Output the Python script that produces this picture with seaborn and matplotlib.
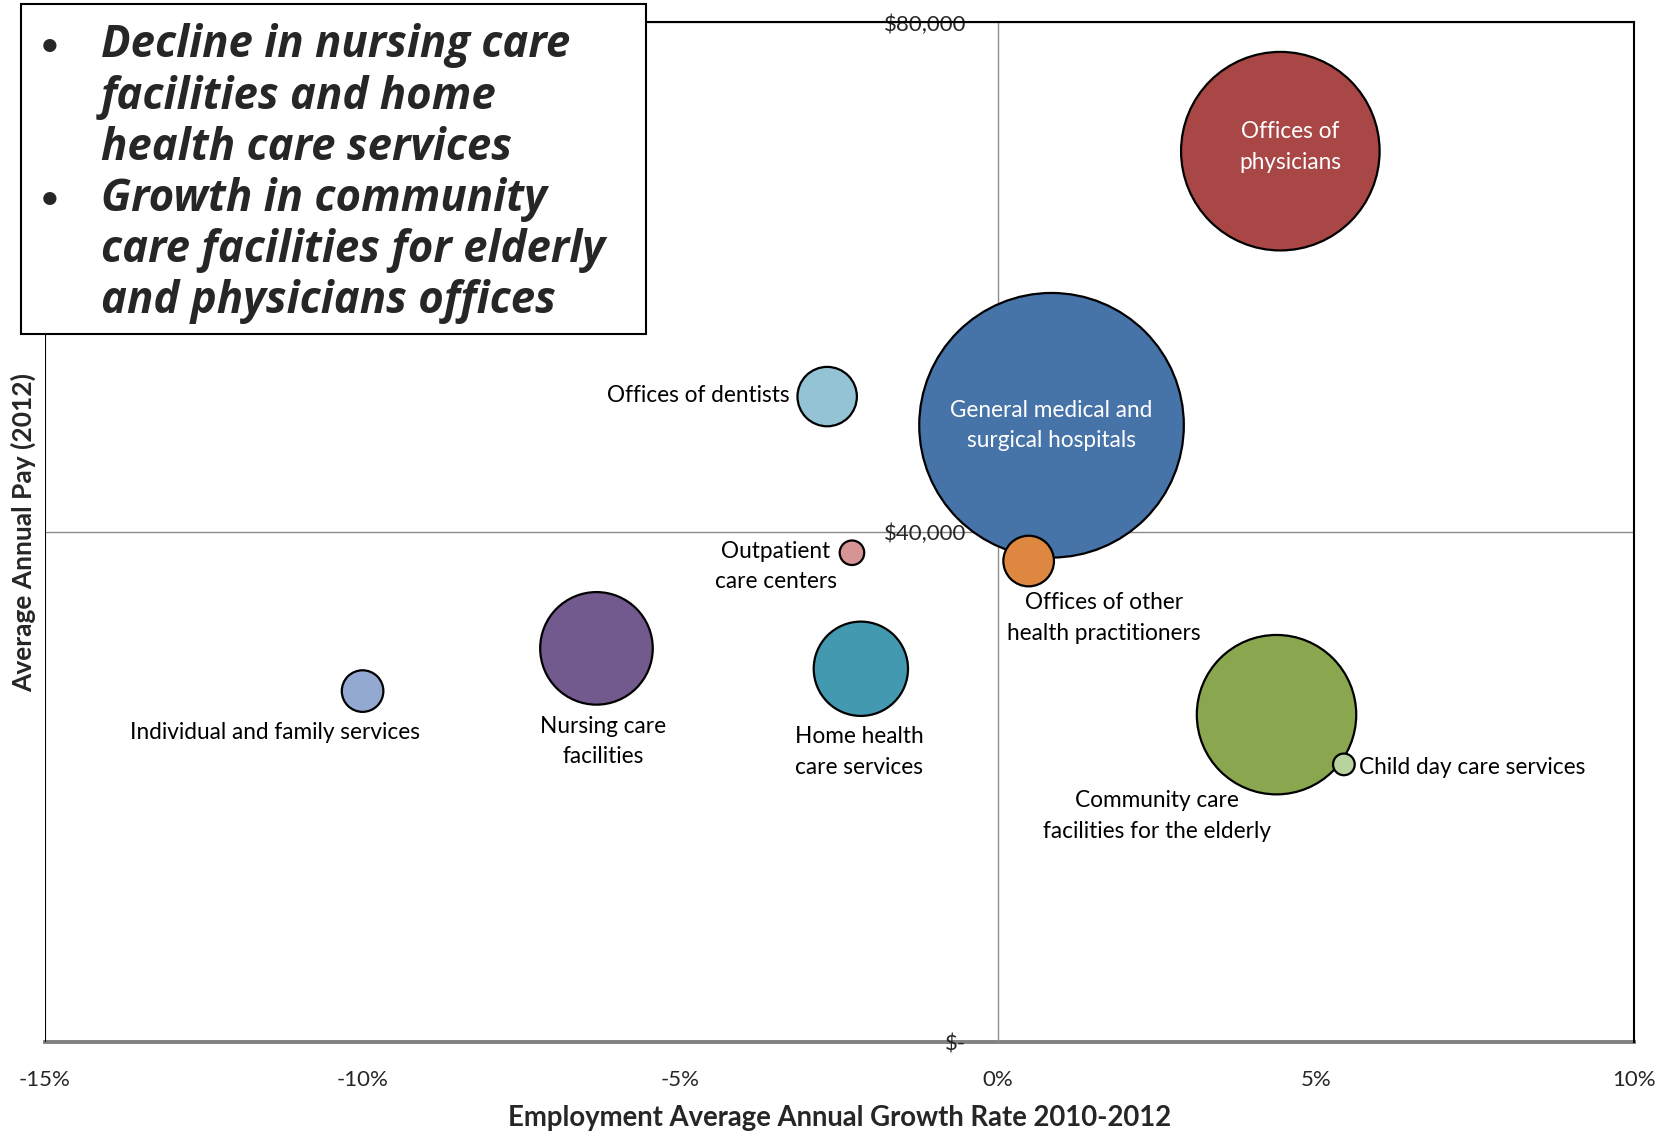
import matplotlib.pyplot as plt
import pandas as pd
import seaborn as sns
from matplotlib.patches import Rectangle
from matplotlib.ticker import FuncFormatter

# data
industries = [
    "Offices of physicians",
    "General medical and surgical hospitals",
    "Offices of other health practitioners",
    "Offices of dentists",
    "Outpatient care centers",
    "Nursing care facilities",
    "Home health care services",
    "Individual and family services",
    "Community care facilities for the elderly",
    "Child day care services",
]
growth = [0.0444, 0.0084, 0.0048, -0.0269, -0.0230, -0.0632, -0.0216, -0.1000, 0.0438, 0.0544]
pay = [69900, 48400, 37750, 50650, 38400, 30900, 29300, 27550, 25700, 21800]
employment = [56.3, 100.0, 3.66, 5.04, 0.86, 18.1, 12.7, 2.47, 36.3, 0.67]
colors = ["#A94646", "#4673A8", "#DE8740", "#93C3D4", "#D69494",
          "#735A8E", "#4399AF", "#94A9D1", "#8AA64E", "#B8D39E"]
labels = [
    "Offices of\nphysicians",
    "General medical and\nsurgical hospitals",
    "Offices of other\nhealth practitioners",
    "Offices of dentists",
    "Outpatient\ncare centers",
    "Nursing care\nfacilities",
    "Home health\ncare services",
    "Individual and family services",
    "Community care\nfacilities for the elderly",
    "Child day care services",
]
x_ticks = [-0.15, -0.10, -0.05, 0.0, 0.05, 0.10]
y_ticks = [0, 40000, 80000]
notes = [
    ["Decline in nursing care", "facilities and home", "health care services"],
    ["Growth in community", "care facilities for elderly", "and physicians offices"],
]

# label placement (offset in points, horizontal alignment, colour)
label_style = {
    "Offices of physicians": ((7, 3), "center", "white"),
    "General medical and surgical hospitals": ((0, 0), "center", "white"),
    "Offices of other health practitioners": ((54, -41), "center", "black"),
    "Offices of dentists": ((-27, 1), "right", "black"),
    "Outpatient care centers": ((-55, -10), "center", "black"),
    "Nursing care facilities": ((5, -67), "center", "black"),
    "Home health care services": ((-1, -60), "center", "black"),
    "Individual and family services": ((-63, -30), "center", "black"),
    "Community care facilities for the elderly": ((-86, -73), "center", "black"),
    "Child day care services": ((11, -2), "left", "black"),
}

sns.set_style("white")
plt.rcParams["font.family"] = ["Lato", "DejaVu Sans"]

fig = plt.figure(figsize=(16.71, 11.31), dpi=100)
ax = fig.add_axes([0.02681, 0.07842, 0.95087, 0.90177])

df = pd.DataFrame({"industry": industries, "growth": growth, "pay": pay,
                   "employment": employment})

max_area = (1.44 * 132.3) ** 2
sns.scatterplot(
    data=df, x="growth", y="pay",
    hue="industry", palette=dict(zip(industries, colors)),
    size="employment", sizes=(0, max_area), size_norm=(0, max(employment)),
    edgecolor="black", linewidth=1.6, alpha=1, legend=False, ax=ax, zorder=3,
)

for name, label, gx, py in zip(industries, labels, growth, pay):
    offset, ha, col = label_style[name]
    ax.annotate(label, (gx, py), xytext=offset, textcoords="offset points",
                ha=ha, va="center", color=col, fontsize=16.3,
                linespacing=1.55, zorder=4)

ax.set_xlim(x_ticks[0], x_ticks[-1])
ax.set_ylim(y_ticks[0], y_ticks[-1])
ax.set_xticks(x_ticks)
ax.set_yticks(y_ticks)
ax.xaxis.set_major_formatter(FuncFormatter(lambda v, _: f"{v * 100:.0f}%"))
ax.yaxis.set_major_formatter(
    FuncFormatter(lambda v, _: "$-" if v == 0 else f"${v:,.0f}"))

ax.spines["left"].set_position(("data", 0))
ax.spines["left"].set_color("#8c8c8c")
ax.spines["left"].set_linewidth(1.0)
ax.spines["bottom"].set_color("#808080")
ax.spines["bottom"].set_linewidth(2.8)
ax.spines["bottom"].set_zorder(0.4)
for side in ["top", "right"]:
    ax.spines[side].set_color("black")
    ax.spines[side].set_linewidth(1.5)
ax.axvline(x_ticks[0], color="black", linewidth=1.5, zorder=2)

ax.yaxis.grid(True, color="#8c8c8c", linewidth=1.0)
ax.set_axisbelow(True)

ax.tick_params(axis="x", direction="out", length=7, color="#8c8c8c",
               labelsize=16, pad=13)
ax.tick_params(axis="y", direction="out", length=4, color="#8c8c8c",
               labelsize=16, pad=19)

ax.set_xlabel("Employment Average Annual Growth Rate 2010-2012",
              fontsize=19.8, fontweight="bold", va="center")
ax.set_ylabel("Average Annual Pay (2012)", fontsize=19, fontweight="bold",
              va="center")
ax.xaxis.set_label_coords(0.5, -0.0745)
ax.yaxis.set_label_coords(-0.0135, 0.5)

# note box in the upper left corner
fig.add_artist(Rectangle((0.01275, 0.705), 0.3738, 0.2912, transform=fig.transFigure,
                         facecolor="white", edgecolor="black", linewidth=1.5,
                         zorder=5))
line_y = 1 - 46.0 / 1131
step = 51.0 / 1131
for block in notes:
    fig.text(0.0245, line_y, "\u2022", fontsize=22, fontweight="bold",
             va="center", ha="left", zorder=6)
    for line in block:
        fig.text(0.0605, line_y, line, fontsize=31.5, fontweight="bold",
                 fontstyle="italic", family=["Open Sans", "DejaVu Sans"],
                 va="center", ha="left", zorder=6)
        line_y -= step

fig.savefig("out.png", dpi=100)
